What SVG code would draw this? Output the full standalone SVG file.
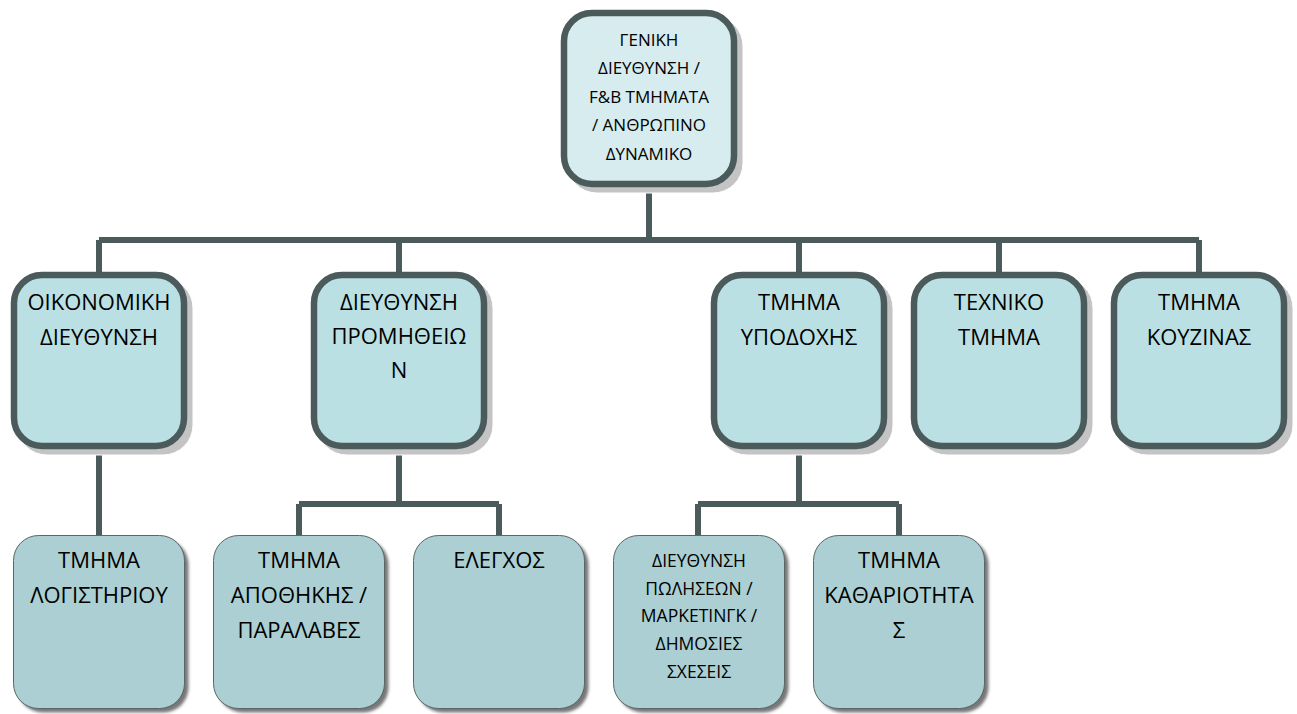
<svg xmlns="http://www.w3.org/2000/svg" width="1297" height="714" viewBox="0 0 1297 714">
<style>
.t{font-family:"Open Sans","Noto Sans",sans-serif;fill:#000;text-anchor:middle}
.big{font-size:22px}
.sm{font-size:17.5px}
.top{font-size:17px}
.m2{fill:#bbe0e3;stroke:#4b5a5b;stroke-width:6.5}
.m1{fill:#d6ecef;stroke:#4b5a5b;stroke-width:6.5}
.m3{fill:#abcfd2;stroke:#5a6566;stroke-width:1}
.sh2{fill:#c4c4c4;stroke:#fff;stroke-width:1}
.sh3{fill:#777;filter:url(#blur)}
.c{fill:none;stroke:#4b5a5b;stroke-width:6}
</style>
<defs>
<filter id="blur" x="-10%" y="-10%" width="120%" height="120%"><feGaussianBlur stdDeviation="1.5"/></filter>
</defs>
<rect width="1297" height="714" fill="#fff"/>
<g id="connectors">
<path class="c" d="M649 187V240M99 240H1199M99 240V272M399 240V272M799 240V272M999 240V272M1199 240V272"/>
<path class="c" d="M99 449V535M399 449V504M299 504H499M299 504V535M499 504V535M799 449V504M698 504H899M698 504V535M899 504V535"/>
</g>
<g id="n-top">
<rect class="sh2" x="567" y="16" width="176" height="177" rx="30"/>
<rect class="m1" x="564" y="13" width="170" height="171" rx="28"/>
<text class="t top" x="649" y="46">ΓΕΝΙΚΗ</text>
<text class="t top" x="649" y="74">ΔΙΕΥΘΥΝΣΗ /</text>
<text class="t top" x="649" y="103">F&amp;B ΤΜΗΜΑΤΑ</text>
<text class="t top" x="649" y="131">/ ΑΝΘΡΩΠΙΝΟ</text>
<text class="t top" x="649" y="160">ΔΥΝΑΜΙΚΟ</text>
</g>
<g id="n-oik">
<rect class="sh2" x="17" y="278" width="176" height="177" rx="30"/>
<rect class="m2" x="14" y="275" width="170" height="171" rx="28"/>
<text class="t big" x="99" y="310">ΟΙΚΟΝΟΜΙΚΗ</text>
<text class="t big" x="99" y="345">ΔΙΕΥΘΥΝΣΗ</text>
</g>
<g id="n-prom">
<rect class="sh2" x="317" y="278" width="176" height="177" rx="30"/>
<rect class="m2" x="314" y="275" width="170" height="171" rx="28"/>
<text class="t big" x="399" y="310">ΔΙΕΥΘΥΝΣΗ</text>
<text class="t big" x="399" y="344">ΠΡΟΜΗΘΕΙΩ</text>
<text class="t big" x="399" y="378">Ν</text>
</g>
<g id="n-ypod">
<rect class="sh2" x="717" y="278" width="176" height="177" rx="30"/>
<rect class="m2" x="714" y="275" width="170" height="171" rx="28"/>
<text class="t big" x="799" y="310">ΤΜΗΜΑ</text>
<text class="t big" x="799" y="345">ΥΠΟΔΟΧΗΣ</text>
</g>
<g id="n-tech">
<rect class="sh2" x="917" y="278" width="176" height="177" rx="30"/>
<rect class="m2" x="914" y="275" width="170" height="171" rx="28"/>
<text class="t big" x="999" y="310">ΤΕΧΝΙΚΟ</text>
<text class="t big" x="999" y="345">ΤΜΗΜΑ</text>
</g>
<g id="n-kouz">
<rect class="sh2" x="1117" y="278" width="176" height="177" rx="30"/>
<rect class="m2" x="1114" y="275" width="170" height="171" rx="28"/>
<text class="t big" x="1199" y="310">ΤΜΗΜΑ</text>
<text class="t big" x="1199" y="345">ΚΟΥΖΙΝΑΣ</text>
</g>
<g id="n-log">
<rect class="sh3" x="17.5" y="539.5" width="171" height="173" rx="25"/>
<rect class="m3" x="13.5" y="535.5" width="171" height="173" rx="25"/>
<text class="t big" x="99" y="568">ΤΜΗΜΑ</text>
<text class="t big" x="99" y="603">ΛΟΓΙΣΤΗΡΙΟΥ</text>
</g>
<g id="n-apo">
<rect class="sh3" x="217.5" y="539.5" width="171" height="173" rx="25"/>
<rect class="m3" x="213.5" y="535.5" width="171" height="173" rx="25"/>
<text class="t big" x="299" y="568">ΤΜΗΜΑ</text>
<text class="t big" x="299" y="603">ΑΠΟΘΗΚΗΣ /</text>
<text class="t big" x="299" y="638">ΠΑΡΑΛΑΒΕΣ</text>
</g>
<g id="n-eleg">
<rect class="sh3" x="417.5" y="539.5" width="171" height="173" rx="25"/>
<rect class="m3" x="413.5" y="535.5" width="171" height="173" rx="25"/>
<text class="t big" x="499" y="568">ΕΛΕΓΧΟΣ</text>
</g>
<g id="n-pol">
<rect class="sh3" x="617.5" y="539.5" width="171" height="173" rx="25"/>
<rect class="m3" x="613.5" y="535.5" width="171" height="173" rx="25"/>
<text class="t sm" x="699" y="567">ΔΙΕΥΘΥΝΣΗ</text>
<text class="t sm" x="699" y="595">ΠΩΛΗΣΕΩΝ /</text>
<text class="t sm" x="699" y="622">ΜΑΡΚΕΤΙΝΓΚ /</text>
<text class="t sm" x="699" y="650">ΔΗΜΟΣΙΕΣ</text>
<text class="t sm" x="699" y="678">ΣΧΕΣΕΙΣ</text>
</g>
<g id="n-kath">
<rect class="sh3" x="817.5" y="539.5" width="171" height="173" rx="25"/>
<rect class="m3" x="813.5" y="535.5" width="171" height="173" rx="25"/>
<text class="t big" x="899" y="568">ΤΜΗΜΑ</text>
<text class="t big" x="899" y="603">ΚΑΘΑΡΙΟΤΗΤΑ</text>
<text class="t big" x="899" y="638">Σ</text>
</g>
</svg>
